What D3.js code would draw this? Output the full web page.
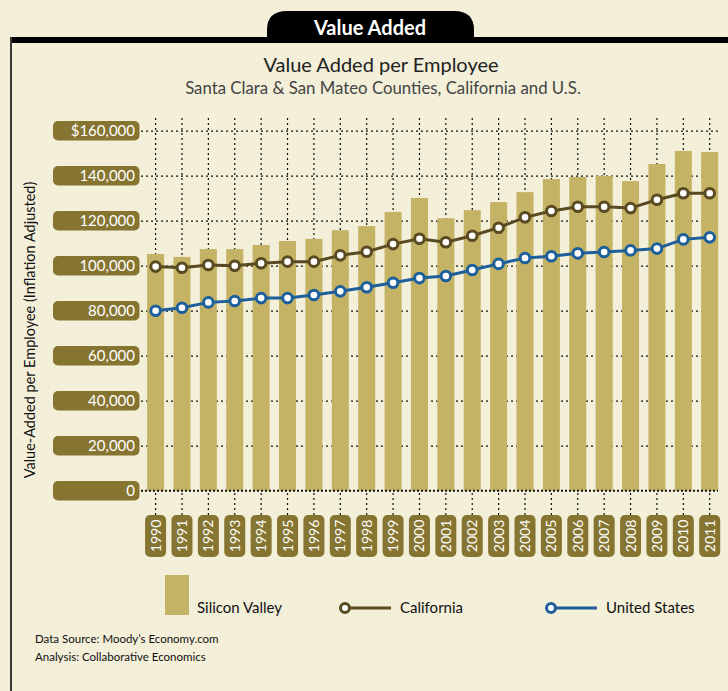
<!DOCTYPE html>
<html><head><meta charset="utf-8">
<script src="https://cdn.jsdelivr.net/npm/d3@7"></script>
<style>
html,body{margin:0;padding:0;background:#f3efd9;}
svg{display:block;}
text{font-family:Lato,"Open Sans",sans-serif;}
</style></head>
<body><svg id="c" width="728" height="691"></svg>
<script>
const years = ["1990","1991","1992","1993","1994","1995","1996","1997","1998","1999","2000","2001","2002","2003","2004","2005","2006","2007","2008","2009","2010","2011"];
const siliconValley = [105200,103900,107400,107400,109200,111000,111900,115800,117600,123900,130100,121100,124700,128300,132700,138500,139400,139900,137600,145200,151000,150500];
const california = [99600,99100,100300,100000,101100,101800,101800,104600,106200,109600,112000,110400,113300,116900,121500,124300,126200,126200,125600,129300,132200,132200];
const unitedStates = [80000,81300,83700,84300,85600,85600,87000,88600,90400,92400,94500,95400,98100,100800,103400,104200,105500,106100,106800,107600,111700,112600];
const yTicks = [0,20000,40000,60000,80000,100000,120000,140000,160000];
const yTickLabels = ["0","20,000","40,000","60,000","80,000","100,000","120,000","140,000","$160,000"];

const C = {bg:"#f3efd9", bar:"#c4b365", pill:"#867530", ca:"#5a4a22", us:"#1d5f9b"};
const svg = d3.select("#c");
svg.append("rect").attr("width",728).attr("height",691).attr("fill",C.bg);

// frame
svg.append("path")
  .attr("d","M267,40 L267,30 Q267,11 287,11 L454,11 Q474,11 474,30 L474,40 Z")
  .attr("fill","#000");
svg.append("rect").attr("x",10).attr("y",37).attr("width",718).attr("height",6).attr("fill","#000");
svg.append("rect").attr("x",10).attr("y",37).attr("width",2).attr("height",654).attr("fill","#3a3a3a");
svg.append("text").attr("x",370).attr("y",35).attr("text-anchor","middle")
  .attr("fill","#fff").attr("font-size",20).attr("font-weight","bold").text("Value Added");

svg.append("text").attr("x",381).attr("y",72).attr("text-anchor","middle")
  .attr("fill","#222").attr("font-size",20).text("Value Added per Employee");
svg.append("text").attr("x",383).attr("y",94).attr("text-anchor","middle")
  .attr("fill","#444").attr("font-size",16.8).text("Santa Clara & San Mateo Counties, California and U.S.");

const x = d3.scaleBand().domain(years).range([142.4,722.9]).padding(0);
const cx = d => x(d) + x.bandwidth()/2;
const bw = x.bandwidth()*0.645;
const y = d3.scaleLinear().domain([0,160000]).range([490.7,130.7]);

// horizontal grid
const gy = svg.append("g").attr("transform","translate(718,0)")
  .call(d3.axisLeft(y).tickValues(yTicks.slice(1)).tickSize(577).tickFormat(""));
gy.select(".domain").remove();
gy.selectAll("line").attr("stroke","#111").attr("stroke-width",1.2).attr("stroke-dasharray","2,3");

// vertical grid
const gx = svg.append("g").attr("transform","translate(0,515)")
  .call(d3.axisTop(x).tickSize(398).tickFormat(""));
gx.select(".domain").remove();
gx.selectAll("line").attr("stroke","#111").attr("stroke-width",1.2).attr("stroke-dasharray","2,3");

// bars
svg.append("g").selectAll("rect").data(years).join("rect")
  .attr("x",(d)=>cx(d)-bw/2).attr("width",bw)
  .attr("y",(d,i)=>y(siliconValley[i])).attr("height",(d,i)=>y(0)-y(siliconValley[i]))
  .attr("fill",C.bar);

// baseline
svg.append("line").attr("x1",141).attr("x2",718).attr("y1",y(0)).attr("y2",y(0))
  .attr("stroke","#111").attr("stroke-width",2).attr("stroke-dasharray","2,2");

// y labels pills
const yl = svg.append("g").selectAll("g").data(yTicks).join("g")
  .attr("transform",d=>`translate(0,${y(d)})`);
yl.append("rect").attr("x",53).attr("y",-9.7).attr("width",86.5).attr("height",19.4).attr("rx",5).attr("fill",C.pill);
yl.append("text").attr("x",135).attr("y",5.5).attr("text-anchor","end").attr("fill","#fff")
  .attr("font-size",15).text((d,i)=>yTickLabels[i]);

// x label pills
const xl = svg.append("g").selectAll("g").data(years).join("g")
  .attr("transform",d=>`translate(${cx(d)},536)`);
xl.append("rect").attr("x",-10.5).attr("y",-21).attr("width",21).attr("height",42).attr("rx",5).attr("fill",C.pill);
xl.append("text").attr("transform","rotate(-90)").attr("text-anchor","middle").attr("y",5)
  .attr("fill","#fff").attr("font-size",14).text(d=>d);

// lines
function series(vals,col){
  const line = d3.line().x((d,i)=>cx(years[i])).y(d=>y(d));
  svg.append("path").datum(vals).attr("d",line).attr("fill","none").attr("stroke",col).attr("stroke-width",3);
  svg.append("g").selectAll("circle").data(vals).join("circle")
    .attr("cx",(d,i)=>cx(years[i])).attr("cy",d=>y(d)).attr("r",4.8)
    .attr("fill","#fff").attr("stroke",col).attr("stroke-width",3);
}
series(california,C.ca);
series(unitedStates,C.us);

// y axis title
svg.append("text").attr("transform","translate(35,330) rotate(-90)").attr("text-anchor","middle")
  .attr("fill","#111").attr("font-size",14.5).text("Value-Added per Employee (Inflation Adjusted)");

// legend
svg.append("rect").attr("x",165).attr("y",575).attr("width",24).attr("height",40).attr("fill",C.bar);
svg.append("text").attr("x",197).attr("y",613).attr("fill","#111").attr("font-size",15).text("Silicon Valley");
function legLine(x0,col,label){
  svg.append("line").attr("x1",x0).attr("x2",x0+46).attr("y1",608).attr("y2",608).attr("stroke",col).attr("stroke-width",3);
  svg.append("circle").attr("cx",x0).attr("cy",608).attr("r",4.5).attr("fill","#fff").attr("stroke",col).attr("stroke-width",3);
  svg.append("text").attr("x",x0+55).attr("y",613).attr("fill","#111").attr("font-size",15).text(label);
}
legLine(345,C.ca,"California");
legLine(551,C.us,"United States");

svg.append("text").attr("x",35).attr("y",643).attr("fill","#111").attr("font-size",11.5).text("Data Source: Moody’s Economy.com");
svg.append("text").attr("x",35).attr("y",661).attr("fill","#111").attr("font-size",11.5).text("Analysis: Collaborative Economics");
</script></body></html>
